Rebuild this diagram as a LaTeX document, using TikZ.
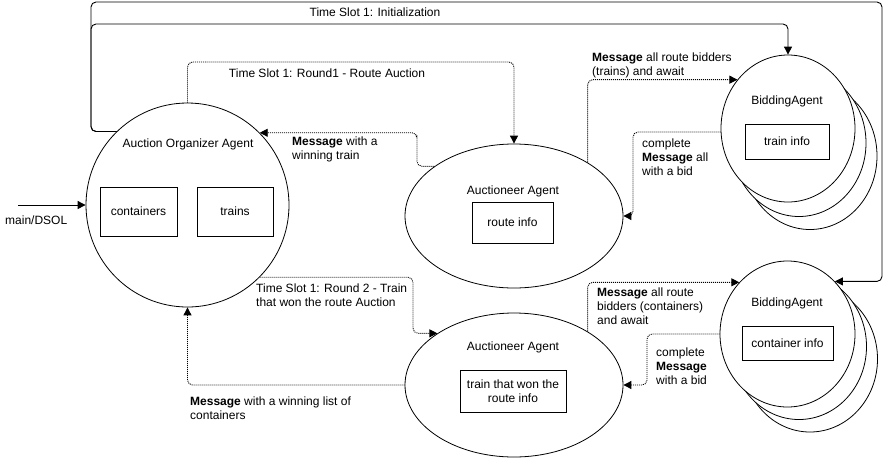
\documentclass[tikz,border=0pt]{standalone}
\usepackage{fontspec}
\setmainfont{Liberation Sans}
\usetikzlibrary{arrows.meta,shapes.geometric}
\begin{document}
\begin{tikzpicture}[x=1pt,y=-1pt,
  every node/.style={font=\fontsize{12}{14}\selectfont},
  agent/.style={draw,ellipse,line width=0.8pt,inner sep=0pt,fill=white},
  infobox/.style={draw,line width=0.8pt,inner sep=0pt,align=center},
  lbl/.style={inner sep=0pt,align=left,anchor=west},
  ttl/.style={inner sep=0pt},
  solidarrow/.style={line width=0.9pt,rounded corners=5pt,-{Triangle[length=8pt,width=8pt]}},
  dotarrow/.style={line width=0.9pt,dash pattern=on 1pt off 1pt,rounded corners=5pt,-{Triangle[length=8pt,width=8pt]}}]
\useasboundingbox (0,0) rectangle (885,459);

% Auction organizer
\node[agent,minimum width=203pt,minimum height=204pt] (org) at (187.5,205) {};
\node[ttl] (orgt) at (188,144) {Auction Organizer Agent};
\node[infobox,minimum width=77pt,minimum height=49pt] (cont) at (138.5,211.5) {containers};
\node[infobox,minimum width=76pt,minimum height=49pt] (trn) at (235,211.5) {trains};

% Auctioneers
\node[agent,minimum width=218pt,minimum height=144pt] (auc1) at (514,216) {};
\node[ttl] (auc1t) at (513,191) {Auctioneer Agent};
\node[infobox,minimum width=81pt,minimum height=41pt] (auc1b) at (512.5,222.5) {route info};

\node[agent,minimum width=218pt,minimum height=144pt] (auc2) at (514,385) {};
\node[ttl] (auc2t) at (513,347) {Auctioneer Agent};
\node[infobox,minimum width=106pt,minimum height=42pt] (auc2b) at (513,391) {train that won the\\route info};

% Bidding agents (stacked)
\node[agent,minimum width=134pt,minimum height=147pt] (bid1c) at (810,156) {};
\node[agent,minimum width=134pt,minimum height=147pt] (bid1b) at (799,143) {};
\node[agent,minimum width=134pt,minimum height=147pt] (bid1) at (788,128.5) {};
\node[ttl] (bid1t) at (787,101) {BiddingAgent};
\node[infobox,minimum width=84pt,minimum height=35pt] (bid1x) at (787,141.5) {train info};

\node[agent,minimum width=135pt,minimum height=146pt] (bid2c) at (810,359) {};
\node[agent,minimum width=135pt,minimum height=146pt] (bid2b) at (799,346.5) {};
\node[agent,minimum width=135pt,minimum height=146pt] (bid2) at (787.5,334) {};
\node[ttl] (bid2t) at (787,303) {BiddingAgent};
\node[infobox,minimum width=91pt,minimum height=34pt] (bid2x) at (787.5,343) {container info};

% main/DSOL input
\coordinate (src) at (18,205);
\draw[solidarrow] (src) -- (org.west);
\node[lbl] (dsol) at (5,220) {main/DSOL};

% Initialization
\draw[solidarrow] (org.134) -| (91,2) -- (882,2) |- (bid2.48);
\draw[solidarrow] (org.134) -| (91,24) -| (bid1.north);
\node[ttl] (initl) at (375,12) {Time Slot 1: Initialization};

% Round 1
\draw[dotarrow] (org.north) |- (400,62) -| (auc1.north);
\node[ttl] (r1l) at (327,73) {Time Slot 1: Round1 - Route Auction};

\draw[dotarrow] (auc1.148) -| (417,140) |- (org.45);
\node[lbl] (wtl) at (292,149) {\textbf{Message} with a\\winning train};

\draw[dotarrow] (auc1.36) |- (bid1.136);
\node[lbl] (mtl) at (592,65) {\textbf{Message} all route bidders\\(trains) and await};

\draw[dotarrow] (bid1.183) -| (633,180) |- (auc1.east);
\node[lbl] (c1l) at (642,157) {complete\\\textbf{Message} all\\with a bid};

% Round 2
\draw[dotarrow] (org.-45) -| (413,300) |- (auc2.146);
\node[lbl] (r2l) at (256,295) {Time Slot 1: Round 2 - Train\\that won the route Auction};

\draw[dotarrow] (auc2.west) -| (org.south);
\node[lbl] (wll) at (190,408) {\textbf{Message} with a winning list of\\containers};

\draw[dotarrow] (auc2.36) |- (bid2.133);
\node[lbl] (mcl) at (597,306) {\textbf{Message} all route\\bidders (containers)\\and await};

\draw[dotarrow] (bid2.west) -| (647,360) |- (auc2.east);
\node[lbl] (c2l) at (656,366) {complete\\\textbf{Message}\\with a bid};
\end{tikzpicture}
\end{document}
